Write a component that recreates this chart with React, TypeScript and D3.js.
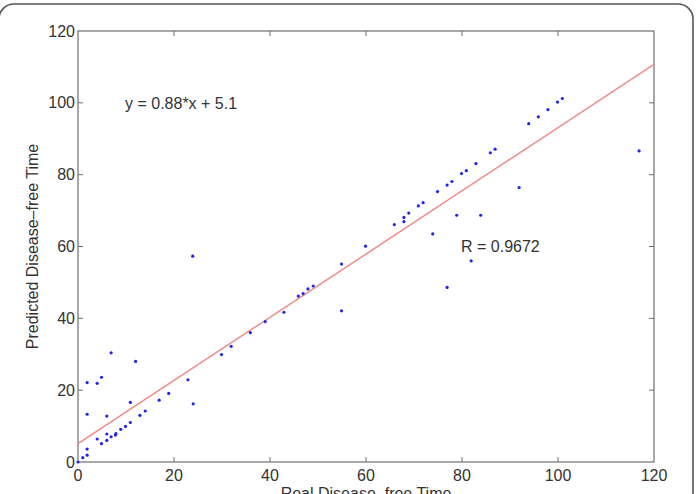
import React from "react";
import * as d3 from "d3";

const realTime = [
  0, 1.0, 1.9, 1.9, 1.9, 1.9, 4.0, 4.9, 6.9, 12.0, 4.0, 4.9, 6.0, 6.0, 6.0, 6.9, 7.8, 7.9, 8.9, 9.9,
  10.9, 10.9, 12.9, 14.0, 16.9, 18.9, 22.9, 24.0, 23.9, 29.9, 31.9, 35.9, 39.0, 42.9, 45.9, 46.9,
  47.9, 49.0, 54.9, 54.9, 59.9, 65.9, 67.9, 67.9, 68.9, 70.9, 71.9, 73.9, 74.9, 76.9, 77.9, 76.9,
  78.9, 79.9, 80.9, 81.9, 82.9, 83.9, 85.9, 86.9, 91.9, 93.9, 95.9, 97.9, 99.9, 100.9, 116.9,
];
const predictedTime = [
  0, 1.2, 1.9, 3.6, 13.3, 22.1, 21.9, 23.6, 30.4, 28.0, 6.4, 5.1, 12.8, 6.0, 7.8, 7.0, 7.5, 7.9, 9.1, 9.9,
  11.0, 16.6, 13.0, 14.2, 17.2, 19.1, 22.9, 16.2, 57.3, 29.9, 32.2, 36.0, 39.1, 41.7, 46.2, 46.9,
  48.2, 49.0, 55.1, 42.1, 60.1, 66.1, 66.9, 68.1, 69.3, 71.3, 72.2, 63.5, 75.3, 77.1, 78.1, 48.6,
  68.7, 80.3, 81.1, 56.0, 83.1, 68.7, 86.1, 87.1, 76.4, 94.2, 96.1, 98.1, 100.2, 101.2, 86.6,
];
const ticks = [0, 20, 40, 60, 80, 100, 120];
const slope = 0.88;
const intercept = 5.1;
const fitLabel = "y = 0.88*x + 5.1";
const rLabel = "R = 0.9672";

export default function App() {
  const W = 696, H = 494;
  const L = 78, R = 654, T = 31, B = 462;
  const x = d3.scaleLinear().domain([0, 120]).range([L, R]);
  const y = d3.scaleLinear().domain([0, 120]).range([B, T]);
  const font = "'Liberation Sans', Arial, Helvetica, sans-serif";
  const axisColor = "#6e6e6e";
  const textColor = "#333";
  const fs = 16;
  const line = d3.line<number>().x((d) => x(d)).y((d) => y(slope * d + intercept));
  return (
    <svg width={W} height={H} style={{ position: "absolute", left: 0, top: 0, background: "#fff" }}>
      <rect x={-1} y={4} width={694} height={560} rx={15} ry={15} fill="#fff" stroke="#555" strokeWidth={1.6} />
      <rect x={L} y={T} width={R - L} height={B - T} fill="#fff" stroke={axisColor} strokeWidth={1.2} />
      {ticks.map((t) => (
        <g key={"t" + t}>
          {t > 0 && t < 120 && (
            <>
              <line x1={x(t)} x2={x(t)} y1={B} y2={B - 5} stroke={axisColor} />
              <line x1={x(t)} x2={x(t)} y1={T} y2={T + 5} stroke={axisColor} />
              <line x1={L} x2={L + 5} y1={y(t)} y2={y(t)} stroke={axisColor} />
              <line x1={R} x2={R - 5} y1={y(t)} y2={y(t)} stroke={axisColor} />
            </>
          )}
          <text x={x(t)} y={B + 19} textAnchor="middle" fontFamily={font} fontSize={fs} fill={textColor}>
            {t}
          </text>
          <text x={L - 3} y={y(t) + 5.5} textAnchor="end" fontFamily={font} fontSize={fs} fill={textColor}>
            {t}
          </text>
        </g>
      ))}
      <path d={line([0, 120]) || ""} fill="none" stroke="#f08a8a" strokeWidth={1.5} />
      {realTime.map((v, i) => (
        <circle key={i} cx={x(v)} cy={y(predictedTime[i])} r={1.6} fill="#2222ee" />
      ))}
      <text x={125} y={109} fontFamily={font} fontSize={fs} fill={textColor}>{fitLabel}</text>
      <text x={461} y={252} fontFamily={font} fontSize={fs} fill={textColor}>{rLabel}</text>
      <text x={(L + R) / 2} y={499} textAnchor="middle" fontFamily={font} fontSize={fs} fill={textColor}>
        Real Disease–free Time
      </text>
      <text
        transform={`translate(38,${(T + B) / 2}) rotate(-90)`}
        textAnchor="middle"
        fontFamily={font}
        fontSize={fs}
        fill={textColor}
      >
        Predicted Disease–free Time
      </text>
    </svg>
  );
}
